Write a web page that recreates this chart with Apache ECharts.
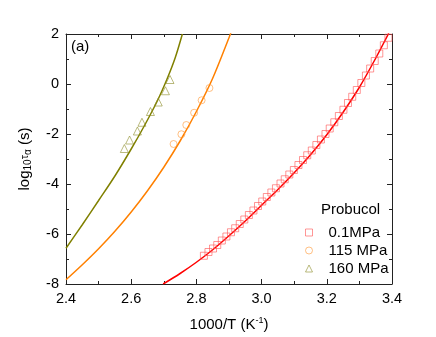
<!DOCTYPE html>
<html>
<head>
<meta charset="utf-8">
<script src="https://cdn.jsdelivr.net/npm/echarts@6/dist/echarts.min.js"></script>
<style>
  html, body { margin: 0; padding: 0; background: #fff; }
  #chart { width: 436px; height: 337px; }
</style>
</head>
<body>
<div id="chart"></div>
<script>
// measured points, 1000/T vs log10 tau
const sq01X = [2.823, 2.837, 2.851, 2.864, 2.878, 2.892, 2.906, 2.919, 2.933, 2.947, 2.961, 2.975, 2.989, 3.002,
  3.016, 3.030, 3.044, 3.058, 3.071, 3.085, 3.099, 3.113, 3.127, 3.140, 3.154, 3.168, 3.182, 3.196,
  3.209, 3.223, 3.237, 3.251, 3.265, 3.278, 3.292, 3.306, 3.320, 3.333, 3.347, 3.361, 3.375, 3.389]
const sq01Y = [-6.87, -6.72, -6.58, -6.44, -6.26, -6.10, -5.93, -5.77, -5.60, -5.42, -5.24, -5.06, -4.88, -4.70,
  -4.52, -4.34, -4.17, -3.98, -3.81, -3.62, -3.44, -3.24, -3.04, -2.85, -2.66, -2.44, -2.22, -2.00,
  -1.78, -1.53, -1.28, -1.03, -0.76, -0.51, -0.24, 0.04, 0.34, 0.62, 0.92, 1.22, 1.55, 1.85]

const circ115X = [2.730, 2.754, 2.769, 2.793, 2.816, 2.840]
const circ115Y = [-2.40, -2.01, -1.64, -1.15, -0.65, -0.16]

const tri160X = [2.579, 2.595, 2.619, 2.633, 2.659, 2.683, 2.705, 2.719]
const tri160Y = [-2.58, -2.24, -1.88, -1.53, -1.10, -0.72, -0.27, 0.18]

// fitted curves
const fit01X = [2.698, 2.75, 2.80, 2.85, 2.90, 2.95, 3.00, 3.05, 3.10, 3.15, 3.20, 3.25, 3.30, 3.35, 3.39]
const fit01Y = [-8, -7.58, -7.13, -6.63, -6.07, -5.48, -4.85, -4.22, -3.55, -2.83, -2.03, -1.13, -0.13, 1.03, 2.03]

const fit115X = [2.40, 2.45, 2.50, 2.55, 2.60, 2.65, 2.70, 2.75, 2.80, 2.85, 2.90, 2.91]
const fit115Y = [-7.83, -7.23, -6.59, -5.89, -5.12, -4.27, -3.33, -2.28, -1.1, 0.23, 1.85, 2.2]

const fit160X = [2.40, 2.45, 2.50, 2.55, 2.60, 2.64, 2.68, 2.71, 2.735, 2.757]
const fit160Y = [-6.57, -5.63, -4.66, -3.68, -2.6, -1.68, -0.68, 0.2, 1.05, 2.0]

const legendNames = ['0.1MPa', '115 MPa', '160 MPa']

const FONT = '"Liberation Sans", Arial, sans-serif'
const RED = '#ff0000'
const ORANGE = '#ff8000'
const OLIVE = '#808000'
const RED_MK = 'rgba(255,80,80,0.75)'
const ORANGE_MK = 'rgba(255,150,50,0.75)'
const OLIVE_MK = 'rgba(140,140,40,0.75)'

const pairs = (xs, ys) => xs.map((x, i) => [x, ys[i]])

const axisBase = {
  axisLine: { show: true, onZero: false, lineStyle: { color: '#222', width: 1 } },
  axisTick: { show: true, inside: true, length: 5, lineStyle: { color: '#222' } },
  minorTick: { show: true, splitNumber: 2, length: 3, lineStyle: { color: '#222' } },
  splitLine: { show: false },
}

const markerSeries = (name, xs, ys, symbol, size, color) => ({
  name,
  type: 'scatter',
  data: pairs(xs, ys),
  symbol,
  symbolSize: size,
  itemStyle: { color: 'rgba(0,0,0,0)', borderColor: color, borderWidth: 1 },
  z: 3,
})

const fitSeries = (name, xs, ys, color) => ({
  name,
  type: 'line',
  data: pairs(xs, ys),
  smooth: 0.3,
  showSymbol: false,
  lineStyle: { color, width: 1.5 },
  z: 2,
})

const getOption = () => ({
  animation: false,
  textStyle: { fontFamily: FONT },
  grid: { left: 66, top: 34, width: 326, height: 251.5 },
  xAxis: [
    {
      ...axisBase,
      type: 'value',
      min: 2.4,
      max: 3.4,
      interval: 0.2,
      position: 'bottom',
      axisLabel: { color: '#000', fontSize: 14.5, fontFamily: FONT, margin: 7, formatter: (v) => v.toFixed(1) },
      name: '1000/T (K{sup|-1})',
      nameLocation: 'middle',
      nameGap: 32,
      nameTextStyle: {
        color: '#000', fontSize: 15, fontFamily: FONT,
        rich: { sup: { fontSize: 9, fontFamily: FONT, color: '#000', verticalAlign: 'top', padding: [0, 0, 8, 0] } },
      },
    },
    {
      ...axisBase,
      type: 'value',
      min: 2.4,
      max: 3.4,
      interval: 0.2,
      position: 'top',
      axisLabel: { show: false },
    },
  ],
  yAxis: [
    {
      ...axisBase,
      type: 'value',
      min: -8,
      max: 2,
      interval: 2,
      position: 'left',
      axisLabel: { color: '#000', fontSize: 14.5, fontFamily: FONT, margin: 7 },
      name: 'log{sub|10}{tau|τ}{sub|α} (s)',
      nameLocation: 'middle',
      nameGap: 33,
      nameTextStyle: {
        color: '#000', fontSize: 15, fontFamily: FONT,
        rich: {
          sub: { fontSize: 10, fontFamily: FONT, color: '#000', verticalAlign: 'bottom', padding: [7, 0, 0, 0] },
          tau: { fontSize: 11, fontFamily: FONT, color: '#000' },
        },
      },
    },
    {
      ...axisBase,
      type: 'value',
      min: -8,
      max: 2,
      interval: 2,
      position: 'right',
      axisLabel: { show: false },
    },
  ],
  legend: {
    orient: 'vertical',
    left: 300,
    top: 220,
    itemWidth: 7,
    itemHeight: 7,
    itemGap: 3,
    textStyle: { color: '#000', fontSize: 15, fontFamily: FONT, padding: [0, 0, 0, 11] },
    data: [
      { name: legendNames[0], icon: 'rect', itemStyle: { color: 'rgba(0,0,0,0)', borderColor: RED_MK, borderWidth: 1 } },
      { name: legendNames[1], icon: 'circle', itemStyle: { color: 'rgba(0,0,0,0)', borderColor: ORANGE_MK, borderWidth: 1 } },
      { name: legendNames[2], icon: 'triangle', itemStyle: { color: 'rgba(0,0,0,0)', borderColor: OLIVE_MK, borderWidth: 1 } },
    ],
  },
  graphic: [
    { type: 'text', left: 71, top: 39, style: { text: '(a)', font: '15px ' + FONT, fill: '#000' } },
    { type: 'text', left: 321, top: 202, style: { text: 'Probucol', font: '15px ' + FONT, fill: '#000' } },
  ],
  series: [
    fitSeries('fit 0.1', fit01X, fit01Y, RED),
    fitSeries('fit 115', fit115X, fit115Y, ORANGE),
    fitSeries('fit 160', fit160X, fit160Y, OLIVE),
    markerSeries(legendNames[0], sq01X, sq01Y, 'rect', 7, RED_MK),
    markerSeries(legendNames[1], circ115X, circ115Y, 'circle', 7, ORANGE_MK),
    markerSeries(legendNames[2], tri160X, tri160Y, 'triangle', 8, OLIVE_MK),
  ],
})

const chart = echarts.init(document.getElementById('chart'))
chart.setOption(getOption())
</script>
</body>
</html>
